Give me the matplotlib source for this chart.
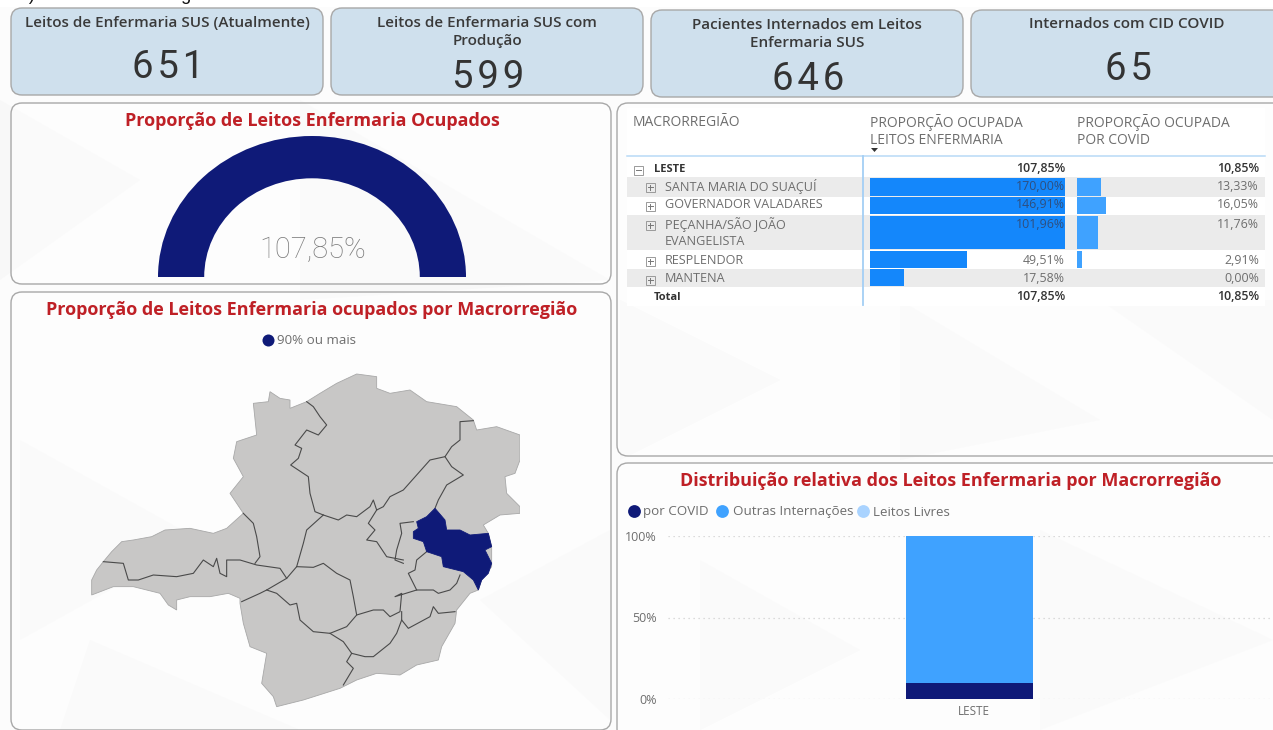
import numpy as np
import matplotlib
matplotlib.use("Agg")
import matplotlib.pyplot as plt
from matplotlib.patches import FancyBboxPatch, Wedge, Polygon, Rectangle
from matplotlib.transforms import ScaledTranslation

# ---------- data ----------
card_titles = ["Leitos de Enfermaria SUS (Atualmente)", "Leitos de Enfermaria SUS com\nProdução",
               "Pacientes Internados em Leitos\nEnfermaria SUS", "Internados com CID COVID"]
card_values = [651, 599, 646, 65]
gauge_value = 107.85
gauge_label = "107,85%"
table_header = ["MACRORREGIÃO", "PROPORÇÃO OCUPADA\nLEITOS ENFERMARIA", "PROPORÇÃO OCUPADA\nPOR COVID"]
region_names = ["SANTA MARIA DO SUAÇUÍ", "GOVERNADOR VALADARES", "PEÇANHA/SÃO JOÃO\nEVANGELISTA", "RESPLENDOR", "MANTENA"]
region_occupied = [170.00, 146.91, 101.96, 49.51, 17.58]
region_covid = [13.33, 16.05, 11.76, 2.91, 0.00]
macro_name = "LESTE"
macro_occupied = 107.85
macro_covid = 10.85
stack_categories = ["LESTE"]
stack_covid = [10.06]
stack_other = [89.94]
stack_free = [0.0]
stack_ticks = [0, 50, 100]

# map outlines (in picture pixels relative to map frame, 1/3 px)
map_outer = [(35,705),(35,660),(50,630),(70,605),(95,575),(125,545),(160,540),(215,530),(255,510),(330,505),(400,520),(440,505),(490,460),(470,430),(450,400),(490,350),(460,295),(470,245),(530,225),(520,130),(565,125),(570,95),(600,115),(630,120),(630,145),(680,125),(720,100),(770,70),(830,42),(890,50),(890,85),(930,100),(990,90),(1040,125),(1130,140),(1180,180),(1190,210),(1250,200),(1320,225),(1320,300),(1305,340),(1275,350),(1280,400),(1320,440),(1320,460),(1260,465),(1210,495),(1225,520),(1235,560),(1235,620),(1205,660),(1195,690),(1170,700),(1130,750),(1125,790),(1085,860),(1075,900),(1010,915),(960,945),(890,940),(830,960),(780,985),(670,1020),(590,1040),(580,1010),(545,970),(560,880),(510,860),(490,790),(480,730),(480,715),(445,700),(390,710),(330,710),(290,720),(290,750),(265,735),(240,700),(160,680),(100,680)]
map_leste = [(1065,445),(1095,480),(1100,510),(1140,510),(1170,525),(1225,520),(1235,560),(1215,570),(1235,610),(1225,640),(1205,660),(1195,690),(1180,660),(1150,635),(1090,620),(1085,590),(1040,575),(1030,545),(1000,535),(1000,515),(1015,505),(1010,485),(1040,470)]
map_borders = [
 [(680,125),(700,140),(720,170),(740,195),(715,225),(680,210),(645,255),(665,265),(655,295),(632,315),(685,350),(690,400),(705,455),(730,465),(775,480),(800,465),(830,470),(870,440),(880,420),(890,450),(910,440),(930,410),(970,390),(1010,345),(1050,300),(1095,290),(1115,260),(1140,240),(1140,185),(1180,182)],
 [(1095,290),(1115,320),(1150,345),(1100,375),(1075,420),(1065,445)],
 [(730,465),(680,510),(670,550),(650,620),(620,655),(560,690),(540,700),(485,725)],
 [(490,460),(520,490),(530,530),(540,590),(525,610)],
 [(70,605),(130,610),(145,660),(175,660),(220,645),(290,650),(340,640),(370,600),(400,620),(410,595),(420,640),(440,650),(440,600),(480,600),(530,615),(600,625),(620,655)],
 [(560,690),(590,700),(630,735),(650,730),(660,780),(700,815),(750,820),(800,800),(830,765),(820,710),(810,660),(770,640),(730,610),(700,622),(650,620)],
 [(830,765),(880,750),(910,750),(930,770),(960,755),(965,700),(945,710),(1010,690),(1060,690),(1075,700),(1110,690),(1130,670),(1140,645)],
 [(750,820),(790,845),(815,880),(800,905),(820,925),(790,975)],
 [(815,880),(855,890),(880,890),(930,850),(950,820),(965,780),(965,755)],
 [(965,780),(985,805),(1050,770),(1060,740),(1075,760),(1125,755)],
 [(1040,575),(1010,600),(1005,630),(985,640),(1000,670),(1010,690)],
 [(1000,485),(960,490),(965,520),(950,570),(945,600),(970,610)],
 [(970,600),(920,590),(890,545),(860,540),(885,510),(865,490),(890,450)],
]
# ---------- styles ----------
NAVY = "#0f1a78"; BLUE = "#1487fb"; MID = "#3fa2ff"; LIGHT = "#a9d3ff"
RED = "#bf2026"; GREY = "#6e6e6e"; CARD = "#cfe0ed"; EDGE = "#a8a8a8"
TXT = ["Open Sans", "DejaVu Sans"]
W, H = 1273, 730

fig = plt.figure(figsize=(W/100, H/100), dpi=100, facecolor="#ffffff")

def axpx(x0, y0, x1, y1, z):
    a = fig.add_axes([x0/W, 1-y1/H, (x1-x0)/W, (y1-y0)/H], zorder=z)
    a.patch.set_alpha(0)
    return a

bg = axpx(0, 0, W, H, 0); bg.set_xlim(0, W); bg.set_ylim(H, 0); bg.axis("off")
fg = axpx(0, 0, W, H, 3); fg.set_xlim(0, W); fg.set_ylim(H, 0); fg.axis("off")

# page background with faint facets
bg.add_patch(Rectangle((0, 0), W, H, fc="#fcfcfc", ec="none"))
bg.add_patch(Rectangle((0, 0), W, 7, fc="#ffffff", ec="none"))
facets = [[(0,100),(140,180),(0,280)], [(300,100),(610,280),(300,300)], [(620,300),(780,380),(620,460)],
          [(900,300),(1100,420),(900,460)], [(1100,300),(1273,300),(1273,420)], [(20,440),(200,540),(20,640)],
          [(480,600),(610,530),(610,720)], [(90,640),(300,730),(60,730)], [(700,560),(860,650),(700,730)],
          [(1040,530),(1273,640),(1040,730)]]
for f in facets:
    bg.add_patch(Polygon(f, closed=True, fc="#f8f8f8", ec="none"))

def box(x0, y0, x1, y1, fc, ax=bg, z=1):
    p = FancyBboxPatch((x0+8, y0+8), x1-x0-16, y1-y0-16, boxstyle="round,pad=8,rounding_size=11",
                       fc=fc, ec=EDGE, lw=1.0, zorder=z)
    ax.add_patch(p)
    return p

# clipped line of the document above the dashboard
fg.text(4, 0.5, "3.5) atual da Macrorregião de Saúde Leste Minas Gerais", fontsize=13, color="#111111",
        family=["Liberation Sans"], va="baseline", ha="left", clip_on=True)

# panels
for r in [(11,103,611,284), (11,292,611,730), (617,103,1290,456), (617,463,1290,740)]:
    box(*r, fc=(1, 1, 1, 0.35))

# cards
card_boxes = [(11,8,323,95), (331,8,643,95), (651,10,963,97), (971,10,1290,97)]
card_title_y = [23, 32, 34, 24]
card_num_y = [67, 78, 79, 69]
card_cx = [167, 487, 807, 1127]
for r, t, v, ty, ny, cx in zip(card_boxes, card_titles, card_values, card_title_y, card_num_y, card_cx):
    box(*r, fc=CARD)
    fg.text(cx, ty, t, ha="center", va="center", fontsize=11.0, color="#3a3a3a", family=TXT,
            fontweight="semibold", linespacing=1.42)
    fg.text(cx+1, ny, "\u200a".join(str(v)), ha="center", va="center", fontsize=27.5, color="#333333",
            family=["Roboto", "DejaVu Sans"], fontweight="regular")

# titles
for x, y, t in [(312,121,"Proporção de Leitos Enfermaria Ocupados"),
                (312,310,"Proporção de Leitos Enfermaria ocupados por Macrorregião"),
                (951,481,"Distribuição relativa dos Leitos Enfermaria por Macrorregião")]:
    fg.text(x, y, t, ha="center", va="center", fontsize=13.0, color=RED, family=TXT, fontweight="bold")

# gauge
ga = axpx(158, 136, 466, 277, 1)
ga.set_xlim(-1, 1); ga.set_ylim(0, 1); ga.axis("off")
ga.add_patch(Wedge((0, 0), 1, 180-180*min(gauge_value, 100)/100, 180, width=0.30, fc=NAVY, ec="none"))
fg.text(313, 250, gauge_label, ha="center", va="center", fontsize=21, color="#7a7a7a",
        family=["Roboto", "DejaVu Sans"], fontweight="light")

# map legend
fg.scatter([268], [340], s=75, color=NAVY, zorder=3, linewidths=0)
fg.text(277, 341, "90% ou mais", ha="left", va="center", fontsize=9.6, color=GREY, family=TXT)

# map
mp = axpx(80, 360, 520, 710, 1)
mp.set_xlim(0, 1320); mp.set_ylim(1050, 0); mp.axis("off")
mp.add_patch(Polygon(map_outer, closed=True, fc="#c8c7c6", ec="#a8a8a8", lw=0.6))
for line in map_borders:
    xs, ys = zip(*line)
    mp.plot(xs, ys, color="#4a4a4a", lw=0.8, solid_joinstyle="round")
mp.add_patch(Polygon(map_leste, closed=True, fc=NAVY, ec=NAVY, lw=0.6, zorder=4))

# table
TX0, TX1 = 627, 1265
row_top = [177, 196.5, 215, 250, 268.5]
row_bot = [196.5, 215, 250, 268.5, 287]
row_text_y = [186, 205, 224, 260, 279]
row_mid = [(a+b)/2 for a, b in zip(row_top, row_bot)]
row_h = [b-a-1.5 for a, b in zip(row_top, row_bot)]
bg.add_patch(Rectangle((TX0, 108), TX1-TX0, 198, fc="#ffffff", ec="none", zorder=1.5))
for i in (0, 2, 4):
    bg.add_patch(Rectangle((TX0, row_top[i]), TX1-TX0, row_bot[i]-row_top[i], fc="#ebebeb", ec="none", zorder=2))
bg.plot([TX0, TX1], [156, 156], color="#b8daf7", lw=1.1, zorder=2)
bg.plot([863, 863], [156, 305], color="#a4cff5", lw=1.3, zorder=2)

occ = axpx(870, 177, 1065, 287, 1); occ.set_xlim(0, 100); occ.set_ylim(287, 177); occ.axis("off")
occ.barh(row_mid, region_occupied, height=row_h, color=BLUE)
cov = axpx(1077, 177, 1259, 287, 1); cov.set_xlim(0, 100); cov.set_ylim(287, 177); cov.axis("off")
cov.barh(row_mid, region_covid, height=row_h, color=MID)

def pct(v):
    return f"{v:.2f}%".replace(".", ",")

HS = 10.0
fg.text(633, 123, table_header[0], ha="left", va="center", fontsize=HS, color=GREY, family=TXT)
fg.text(870, 131, table_header[1], ha="left", va="center", fontsize=HS, color=GREY, family=TXT, linespacing=1.12)
fg.text(1077, 131, table_header[2], ha="left", va="center", fontsize=HS, color=GREY, family=TXT, linespacing=1.12)
fg.add_patch(Polygon([(871, 148), (878, 148), (874.5, 152)], closed=True, fc="#333333", ec="none"))

def expander(x, y, minus=False):
    fg.add_patch(Rectangle((x-4.5, y-4.5), 9, 9, fc="none", ec="#9a9a9a", lw=0.7))
    fg.plot([x-2.5, x+2.5], [y, y], color="#777777", lw=0.7)
    if not minus:
        fg.plot([x, x], [y-2.5, y+2.5], color="#777777", lw=0.7)

BS = 8.9
expander(638, 170, minus=True)
fg.text(654, 169, macro_name, ha="left", va="center", fontsize=BS-0.9, color="#333333", family=TXT, fontweight="bold")
fg.text(1065, 168, pct(macro_occupied), ha="right", va="center", fontsize=BS, color="#333333", family=TXT, fontweight="semibold")
fg.text(1259, 168, pct(macro_covid), ha="right", va="center", fontsize=BS, color="#333333", family=TXT, fontweight="semibold")
for i, (nm, o, c) in enumerate(zip(region_names, region_occupied, region_covid)):
    y0 = row_text_y[i]
    expander(650, y0 + 1)
    fg.text(665, y0 if "\n" not in nm else row_mid[i], nm, ha="left", va="center", fontsize=BS+0.2, color=GREY,
            family=TXT, linespacing=1.28)
    fg.text(1065, y0, pct(o), ha="right", va="center", fontsize=BS, color="#2f4f7f" if o > 100 else GREY, family=TXT)
    fg.text(1259, y0, pct(c), ha="right", va="center", fontsize=BS, color=GREY, family=TXT)
fg.text(654, 298, "Total", ha="left", va="center", fontsize=BS-0.9, color="#333333", family=TXT, fontweight="bold")
fg.text(1065, 297, pct(macro_occupied), ha="right", va="center", fontsize=BS, color="#333333", family=TXT, fontweight="semibold")
fg.text(1259, 297, pct(macro_covid), ha="right", va="center", fontsize=BS, color="#333333", family=TXT, fontweight="semibold")

# stacked chart legend
for mx, tx, col, lab in [(634, 643, NAVY, "por COVID"), (722, 733, MID, "Outras Internações"), (863, 873, LIGHT, "Leitos Livres")]:
    fg.scatter([mx], [511], s=85, color=col, linewidths=0, zorder=3)
    fg.text(tx, 512, lab, ha="left", va="center", fontsize=9.6, color=GREY, family=TXT)

# stacked chart
st = axpx(668, 536, 1273, 699, 1)
x = np.arange(len(stack_categories))
st.bar(x, stack_covid, width=0.21, color=NAVY, zorder=3)
st.bar(x, stack_other, width=0.21, bottom=stack_covid, color=MID, zorder=3)
st.bar(x, stack_free, width=0.21, bottom=np.add(stack_covid, stack_other), color=LIGHT, zorder=3)
st.set_xlim(-0.498, 0.502); st.set_ylim(0, 100)
st.set_xticks(x, stack_categories, fontsize=8.4, color=GREY, family=TXT)
st.set_yticks(stack_ticks, [f"{t}%" for t in stack_ticks], fontsize=9, color=GREY, family=TXT)
st.tick_params(length=0, pad=8)
st.tick_params(axis="x", pad=4)
st.grid(axis="y", color="#d0d0d0", ls=(0, (1, 3)), lw=0.9, zorder=1)
for s in st.spines.values():
    s.set_visible(False)
for lbl in st.get_yticklabels() + st.get_xticklabels():
    lbl.set_clip_on(False)
for lbl in st.get_xticklabels():
    lbl.set_transform(lbl.get_transform() + ScaledTranslation(5/100, 0, fig.dpi_scale_trans))

fig.savefig("out.png", dpi=100, facecolor=fig.get_facecolor())
